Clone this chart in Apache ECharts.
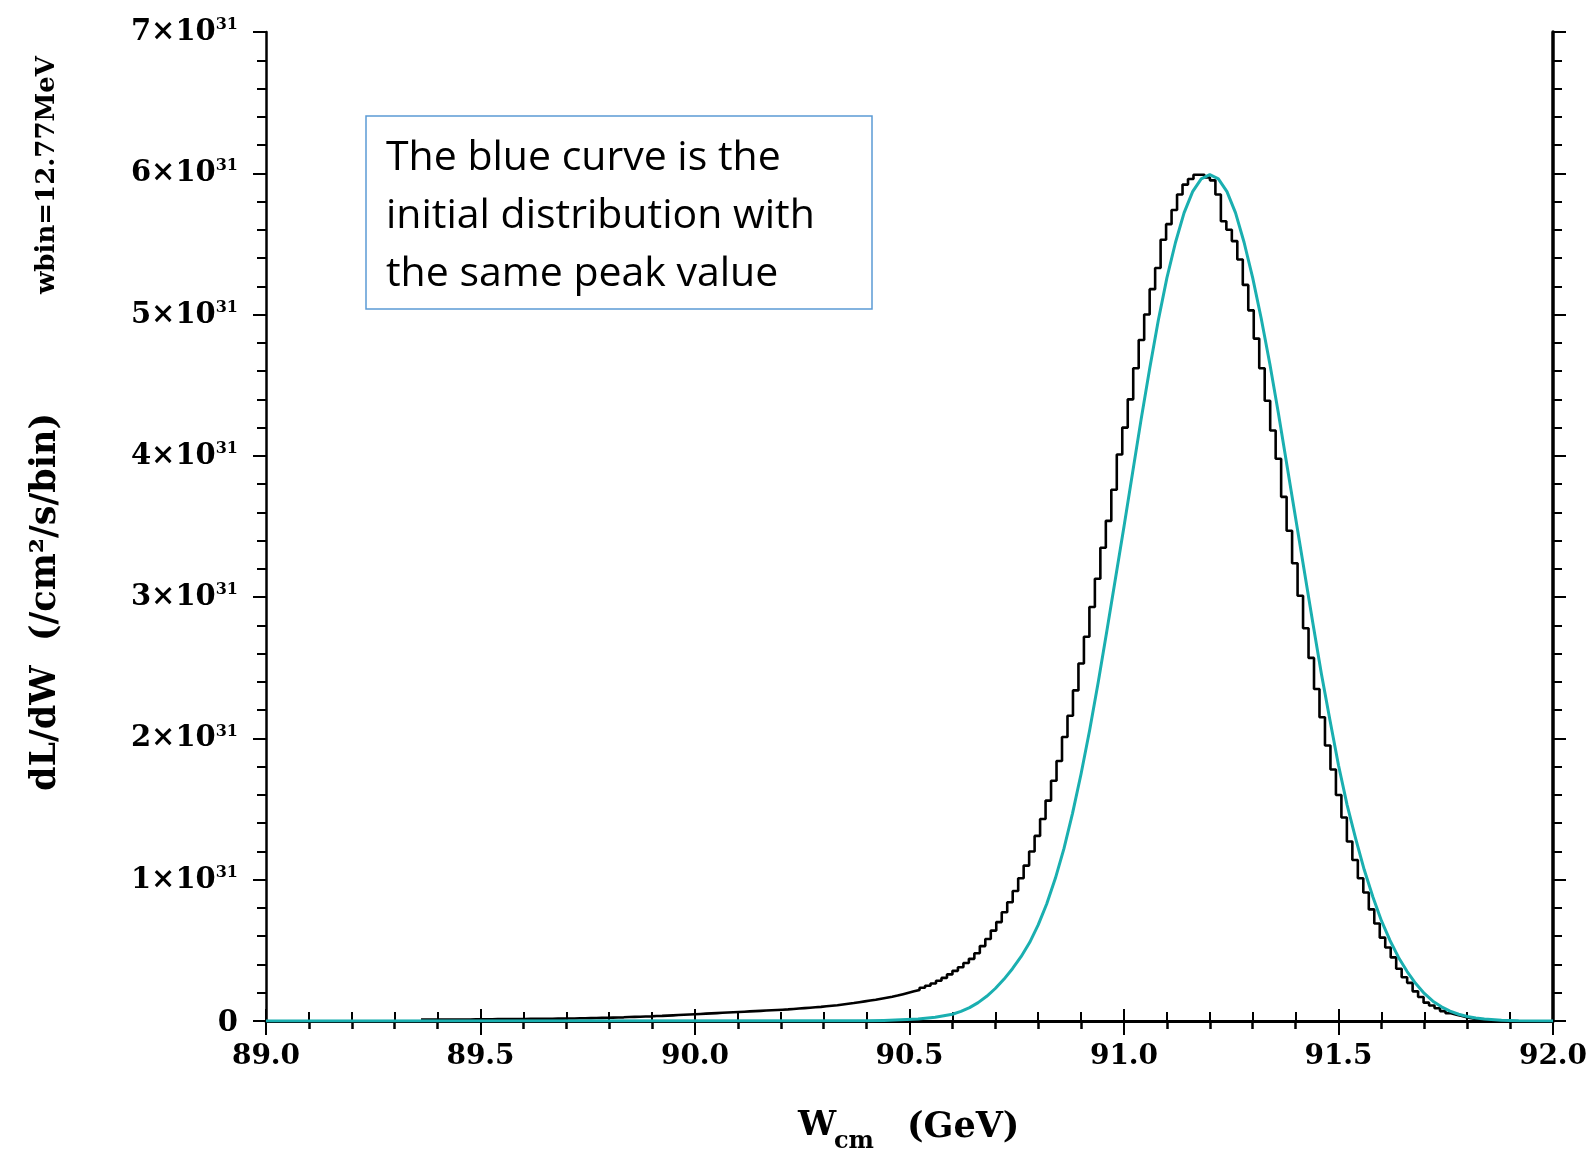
<!DOCTYPE html>
<html><head><meta charset="utf-8">
<script src="https://cdn.jsdelivr.net/npm/echarts@6/dist/echarts.min.js"></script>
<style>html,body{margin:0;padding:0;background:#fff}#c{width:1593px;height:1152px}</style>
</head><body><div id="c"></div>
<script>
// Histogram (black): bins of width 12.77 MeV, values in units of 1e31 /cm^2/s/bin
const binStart = 89.3614;
const binWidth = 0.01277;
const histValues = [
0.010,0.010,0.010,0.010,0.010,0.011,0.011,0.011,0.011,0.012,
0.012,0.012,0.012,0.013,0.013,0.013,0.014,0.014,0.014,0.015,
0.015,0.015,0.016,0.016,0.017,0.017,0.018,0.018,0.019,0.019,
0.020,0.021,0.022,0.023,0.024,0.025,0.026,0.028,0.029,0.030,
0.032,0.033,0.035,0.036,0.038,0.040,0.042,0.044,0.046,0.048,
0.050,0.052,0.054,0.056,0.058,0.060,0.062,0.064,0.066,0.068,
0.070,0.072,0.074,0.076,0.078,0.080,0.082,0.085,0.088,0.091,
0.094,0.097,0.100,0.104,0.108,0.112,0.117,0.122,0.127,0.133,
0.139,0.145,0.151,0.158,0.165,0.172,0.180,0.19,0.20,0.21,
0.22,0.235,0.25,0.265,0.285,0.305,0.33,0.355,0.38,0.41,
0.44,0.48,0.53,0.58,0.64,0.70,0.77,0.84,0.92,1.01,
1.10,1.20,1.31,1.43,1.56,1.70,1.84,2.01,2.16,2.34,
2.53,2.72,2.93,3.13,3.35,3.54,3.76,4.01,4.20,4.40,
4.62,4.82,5.00,5.18,5.33,5.53,5.64,5.74,5.85,5.92,
5.96,5.99,5.99,5.97,5.95,5.85,5.66,5.60,5.52,5.39,
5.21,5.03,4.83,4.62,4.39,4.18,3.98,3.71,3.47,3.24,
3.01,2.78,2.57,2.35,2.15,1.95,1.78,1.60,1.44,1.27,
1.14,1.01,0.91,0.79,0.69,0.59,0.52,0.45,0.37,0.31,
0.27,0.21,0.17,0.13,0.11,0.09,0.07,0.055,0.045,0.035,
0.025,0.018,0.012,0.008,0.005,0.003
];
// Initial distribution (cyan curve), values in units of 1e31
const curveX = [89.0,90.40,90.44,90.48,90.52,90.56,90.60,90.62,90.64,90.66,90.68,90.70,90.72,90.74,90.76,90.78,90.80,90.82,90.84,90.86,90.88,90.90,90.92,90.94,90.96,90.98,91.00,91.02,91.04,91.06,91.08,91.10,91.12,91.14,91.16,91.18,91.20,91.22,91.24,91.26,91.28,91.30,91.32,91.34,91.36,91.38,91.40,91.42,91.44,91.46,91.48,91.50,91.52,91.54,91.56,91.58,91.60,91.62,91.64,91.66,91.68,91.70,91.72,91.74,91.76,91.78,91.80,91.82,91.84,91.88,91.92,92.0];
const curveY = [0,0.002,0.004,0.008,0.014,0.026,0.048,0.068,0.095,0.13,0.175,0.23,0.295,0.37,0.455,0.555,0.68,0.83,1.01,1.22,1.47,1.75,2.06,2.40,2.76,3.13,3.50,3.88,4.26,4.62,4.96,5.26,5.51,5.72,5.87,5.96,5.99,5.96,5.87,5.72,5.51,5.26,4.97,4.65,4.30,3.93,3.56,3.19,2.82,2.46,2.13,1.81,1.53,1.29,1.07,0.88,0.71,0.57,0.45,0.35,0.265,0.195,0.14,0.10,0.07,0.048,0.032,0.021,0.014,0.006,0.002,0];
const xTickLabels = ['89.0','89.5','90.0','90.5','91.0','91.5','92.0'];
const yTickMultipliers = ['0','1','2','3','4','5','6','7'];

const histData = histValues.map((v, k) => [binStart + k * binWidth, v]);
histData.push([binStart + histValues.length * binWidth, histValues[histValues.length - 1]]);
histData.push([binStart + histValues.length * binWidth, 0]);
const curveData = curveX.map((x, i) => [x, curveY[i]]);

const SERIF = '"DejaVu Serif", serif';
const chart = echarts.init(document.getElementById('c'), null, {renderer: 'canvas'});
const axisLine = w => ({show: true, lineStyle: {color: '#000', width: w}});
const option = {
  animation: false,
  backgroundColor: '#fff',
  grid: {left: 266, right: 40, top: 32, bottom: 131},
  xAxis: [{
    type: 'value', min: 89, max: 92, interval: 0.5,
    axisLine: axisLine(2.5),
    axisTick: {show: true, inside: false, length: 14, lineStyle: {color: '#000', width: 2}},
    minorTick: {show: true, splitNumber: 5, length: 8, lineStyle: {color: '#000', width: 2.5}},
    splitLine: {show: false},
    axisLabel: {margin: 22, fontFamily: SERIF, fontWeight: 'bold', fontSize: 28, color: '#000',
      formatter: v => xTickLabels[Math.round((v - 89) / 0.5)]}
  }, {
    type: 'value', position: 'top', min: 89, max: 92, interval: 0.5,
    axisLine: axisLine(3),
    axisTick: {show: true, inside: false, length: 12, lineStyle: {color: '#000', width: 2}},
    minorTick: {show: true, splitNumber: 5, length: 9, lineStyle: {color: '#000', width: 2}},
    splitLine: {show: false}, axisLabel: {show: false}
  }],
  yAxis: [{
    type: 'value', min: 0, max: 7, interval: 1,
    axisLine: axisLine(2.5),
    axisTick: {show: true, inside: false, length: 13, lineStyle: {color: '#000', width: 2}},
    minorTick: {show: true, splitNumber: 5, length: 9, lineStyle: {color: '#000', width: 2}},
    splitLine: {show: false},
    axisLabel: {margin: 28, color: '#000',
      formatter: v => { const m = yTickMultipliers[Math.round(v)]; return m === '0' ? '{z|0}' : '{a|' + m + '×10}{s|31}'; },
      rich: {
        a: {fontFamily: SERIF, fontWeight: 'bold', fontSize: 29, lineHeight: 30, padding: [9, 0, 0, 0], verticalAlign: 'bottom', color: '#000'},
        s: {fontFamily: SERIF, fontWeight: 'bold', fontSize: 16, lineHeight: 18, verticalAlign: 'top', color: '#000'},
        z: {fontFamily: SERIF, fontWeight: 'bold', fontSize: 29, lineHeight: 30, padding: [4, 0, 0, 0], color: '#000'}
      }}
  }, {
    type: 'value', position: 'right', min: 0, max: 7, interval: 1,
    axisLine: axisLine(3.5),
    axisTick: {show: true, inside: false, length: 13, lineStyle: {color: '#000', width: 2}},
    minorTick: {show: true, splitNumber: 5, length: 9, lineStyle: {color: '#000', width: 2}},
    splitLine: {show: false}, axisLabel: {show: false}
  }],
  series: [{
    type: 'line', name: 'hist', data: histData, step: 'end', symbol: 'none',
    lineStyle: {color: '#000', width: 2.6}, z: 3
  }, {
    type: 'line', name: 'initial', data: curveData, smooth: false, symbol: 'none',
    lineStyle: {color: '#1aafb0', width: 3, join: 'round'}, z: 4
  }],
  graphic: [
    {type: 'rect', shape: {x: 366, y: 116, width: 506, height: 193},
     style: {fill: '#fff', stroke: '#5b9bd5', lineWidth: 1.5}, z: 10},
    {type: 'text', x: 386, y: 158, z: 11, style: {text: 'The blue curve is the', font: '41px "Open Sans"', fill: '#000', textVerticalAlign: 'middle'}},
    {type: 'text', x: 386, y: 216, z: 11, style: {text: 'initial distribution with', font: '41px "Open Sans"', fill: '#000', textVerticalAlign: 'middle'}},
    {type: 'text', x: 386, y: 274, z: 11, style: {text: 'the same peak value', font: '41px "Open Sans"', fill: '#000', textVerticalAlign: 'middle'}},
    {type: 'text', x: 46, y: 602, rotation: Math.PI / 2, z: 11,
     style: {text: 'dL/dW  (/cm²/s/bin)', font: 'bold 35px "DejaVu Serif"', fill: '#000', textAlign: 'center', textVerticalAlign: 'middle'}},
    {type: 'text', x: 47, y: 175, rotation: Math.PI / 2, z: 11,
     style: {text: 'wbin=12.77MeV', font: 'bold 26px "DejaVu Serif"', fill: '#000', textAlign: 'center', textVerticalAlign: 'middle'}},
    {type: 'text', x: 798, y: 1126, z: 11, style: {text: 'W', font: 'bold 34px "DejaVu Serif"', fill: '#000', textVerticalAlign: 'middle'}},
    {type: 'text', x: 834, y: 1142, z: 11, style: {text: 'cm', font: 'bold 24px "DejaVu Serif"', fill: '#000', textVerticalAlign: 'middle'}},
    {type: 'text', x: 907, y: 1128, z: 11, style: {text: '(GeV)', font: 'bold 35px "DejaVu Serif"', fill: '#000', textVerticalAlign: 'middle'}}
  ]
};
chart.setOption(option);
</script></body></html>
